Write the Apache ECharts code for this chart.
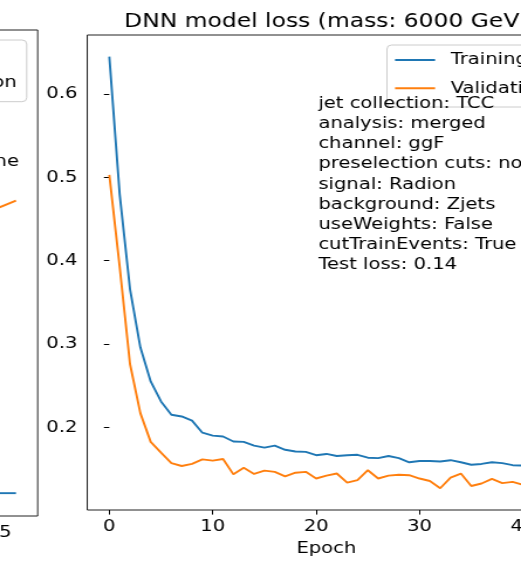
<!DOCTYPE html>
<html>
<head>
<meta charset="utf-8">
<script src="https://cdn.jsdelivr.net/npm/echarts@6/dist/echarts.min.js"></script>
<style>
  html, body { margin: 0; padding: 0; background: #fff; overflow: hidden; }
  /* figure is laid out at 445px and widened to fill the 521px page */
  #chart { width: 445px; height: 566px; transform: scaleX(1.170787); transform-origin: 0 0; }
</style>
</head>
<body>
<div id="chart"></div>
<script>
// Loss per epoch for the 6000 GeV model
const epochs = [0,1,2,3,4,5,6,7,8,9,10,11,12,13,14,15,16,17,18,19,20,21,22,23,24,25,26,27,28,29,30,31,32,33,34,35,36,37,38,39,40];
const trainingLoss = [0.645,0.48,0.366,0.296,0.255,0.231,0.215,0.213,0.208,0.1935,0.190,0.189,0.183,0.1825,0.178,0.1755,0.178,0.173,0.171,0.1705,0.1665,0.168,0.1655,0.1665,0.167,0.1635,0.163,0.1655,0.163,0.158,0.1595,0.1595,0.159,0.1605,0.158,0.155,0.156,0.158,0.157,0.1545,0.154];
const validationLoss = [0.503,0.393,0.276,0.217,0.1825,0.1695,0.157,0.1535,0.156,0.1615,0.160,0.162,0.1435,0.1515,0.144,0.148,0.1465,0.141,0.1455,0.1465,0.1385,0.142,0.1445,0.1335,0.1365,0.1485,0.1385,0.142,0.143,0.1425,0.1385,0.1355,0.1268,0.1395,0.1445,0.1295,0.1325,0.138,0.133,0.1345,0.131];
const xTicks = [0, 10, 20, 30, 40];
const yTicks = [0.2, 0.3, 0.4, 0.5, 0.6];
const infoLines = [
  'jet collection: TCC',
  'analysis: merged',
  'channel: ggF',
  'preselection cuts: none',
  'signal: Radion',
  'background: Zjets',
  'useWeights: False',
  'cutTrainEvents: True',
  'Test loss: 0.14'
];
const titleText = 'DNN model loss (mass: 6000 GeV)';

// Neighbouring panel (only its last epochs are in view)
const sideEpochs = [25, 26];
const sideTraining = [0.047, 0.047];
const sideValidation = [0.635, 0.649];
const sideXTicks = [0, 5, 10, 15, 20, 25];
const sideInfoLine = 'preselection cuts: none';

const FONT = 'DejaVu Sans';
const FS = 16.7;
const BLUE = '#1f77b4';
const ORANGE = '#ff7f0e';

const pairs = (xs, ys) => xs.map((x, i) => [x, ys[i]]);

const chart = echarts.init(document.getElementById('chart'), null, { renderer: 'canvas' });

const lineSeries = (name, color, xi, yi, data) => ({
  name, type: 'line', xAxisIndex: xi, yAxisIndex: yi, data,
  showSymbol: false, symbol: 'none',
  lineStyle: { color, width: 1.9 }, itemStyle: { color },
  emphasis: { disabled: true }
});

const tickStyle = { show: true, inside: false, length: 4.6, lineStyle: { color: '#000', width: 1 } };
const labelStyle = { fontFamily: FONT, fontSize: FS, color: '#000' };

chart.setOption({
  animation: false,
  backgroundColor: '#fff',
  grid: [
    { left: 74.56, top: 35, width: 408.3, height: 475, outerBoundsMode: 'none',
      show: true, borderColor: '#222', borderWidth: 1, backgroundColor: 'transparent' },
    { left: -376.1, top: 30, width: 408.3, height: 486, outerBoundsMode: 'none',
      show: true, borderColor: '#222', borderWidth: 1, backgroundColor: 'transparent' }
  ],
  xAxis: [
    {
      type: 'value', gridIndex: 0, min: -2.13, max: 44.1,
      name: 'Epoch', nameLocation: 'middle', nameGap: 29,
      nameTextStyle: labelStyle,
      axisLine: { show: false },
      splitLine: { show: false },
      axisTick: Object.assign({ customValues: xTicks }, tickStyle),
      axisLabel: Object.assign({ customValues: xTicks, margin: 8 }, labelStyle)
    },
    {
      type: 'value', gridIndex: 1, min: -1.3, max: 27.3,
      axisLine: { show: false },
      splitLine: { show: false },
      axisTick: Object.assign({ customValues: sideXTicks }, tickStyle),
      axisLabel: Object.assign({ customValues: sideXTicks, margin: 8 }, labelStyle)
    }
  ],
  yAxis: [
    {
      type: 'value', gridIndex: 0, min: 0.1007, max: 0.671,
      axisLine: { show: false },
      splitLine: { show: false },
      axisTick: Object.assign({ customValues: yTicks }, tickStyle),
      axisLabel: Object.assign({ customValues: yTicks, margin: 8.5, formatter: v => v.toFixed(1) }, labelStyle)
    },
    {
      type: 'value', gridIndex: 1, min: 0, max: 1,
      axisLine: { show: false }, splitLine: { show: false },
      axisTick: { show: false }, axisLabel: { show: false }
    }
  ],
  legend: [
    {
      left: 330.5, top: 45, orient: 'vertical',
      data: ['Training', 'Validation'],
      icon: 'rect', itemWidth: 34.2, itemHeight: 2, itemGap: 8.3,
      padding: [5, 8, 8.7, 6.9],
      backgroundColor: 'rgba(255,255,255,0.8)', borderColor: '#cccccc', borderWidth: 1, borderRadius: 4,
      selectedMode: false,
      textStyle: { fontFamily: FONT, fontSize: FS, color: '#000', lineHeight: 20, padding: [0, 0, 0, 8.4] }
    },
    {
      left: -122.7, top: 40, orient: 'vertical',
      data: ['Training', 'Validation'],
      icon: 'rect', itemWidth: 34.2, itemHeight: 2, itemGap: 8,
      padding: [5, 8.6, 8.7, 6.9],
      backgroundColor: 'rgba(255,255,255,0.8)', borderColor: '#cccccc', borderWidth: 1, borderRadius: 4,
      selectedMode: false,
      textStyle: { fontFamily: FONT, fontSize: FS, color: '#000', lineHeight: 20, padding: [0, 0, 0, 8.4] }
    }
  ],
  series: [
    lineSeries('Training', BLUE, 0, 0, pairs(epochs, trainingLoss)),
    lineSeries('Validation', ORANGE, 0, 0, pairs(epochs, validationLoss)),
    lineSeries('Training', BLUE, 1, 1, pairs(sideEpochs, sideTraining)),
    lineSeries('Validation', ORANGE, 1, 1, pairs(sideEpochs, sideValidation))
  ],
  graphic: [
    {
      type: 'text', x: 278.7, y: 21.3, z: 100,
      style: { text: titleText, font: '20px "DejaVu Sans"', fill: '#000', align: 'center', verticalAlign: 'middle' }
    },
    {
      type: 'text', x: 271.9, y: 93.3, z: 100,
      style: { text: infoLines.join('\n'), font: FS + 'px "DejaVu Sans"', lineHeight: 20.2, fill: '#000', align: 'left', verticalAlign: 'top' }
    },
    {
      type: 'text', x: 16.2, y: 162, z: 100,
      style: { text: sideInfoLine, font: FS + 'px "DejaVu Sans"', fill: '#000', align: 'right', verticalAlign: 'middle' }
    }
  ]
});
</script>
</body>
</html>
